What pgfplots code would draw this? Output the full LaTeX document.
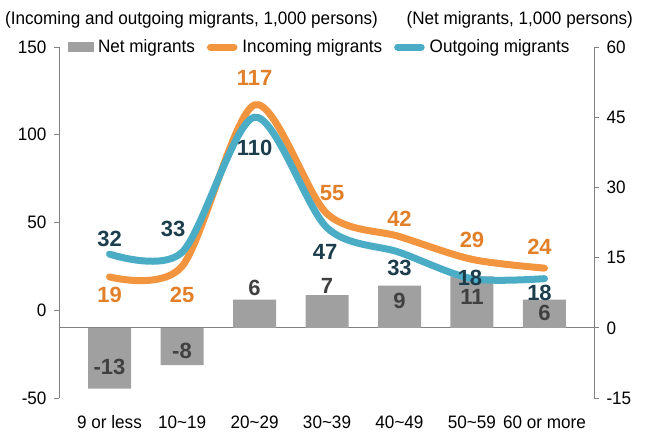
\documentclass[border=0pt]{standalone}
\usepackage{pgfplots}
\usepackage{pgfplotstable}
\pgfplotsset{compat=1.18}
\usepackage{fontspec}
\setmainfont{Liberation Sans}
\newfontfamily\narrowfont[FakeStretch=0.95]{Liberation Sans}
\definecolor{orangeL}{RGB}{243,148,62}
\definecolor{blueL}{RGB}{75,172,198}
\definecolor{barG}{RGB}{160,160,160}
\definecolor{orangeT}{RGB}{226,128,42}
\definecolor{blueT}{RGB}{28,62,76}
\definecolor{barT}{RGB}{64,64,64}
\definecolor{axG}{RGB}{128,128,128}

\pgfplotstableread{
x y dx dy lab
0 -13 0 22 -13
1 -8 0 14 -8
2 6 0 12 6
3 7 0 9 7
4 9 0 -15 9
5 11 0 -21 11
6 6 0 -13 6
}\netdata
\pgfplotstableread{
x y dx dy lab
0 19 0 -18 19
1 25 0 -29 25
2 117 0 27 117
3 55 5 21 55
4 42 0 18 42
5 29 0 19 29
6 24 -5 21 24
}\indata
\pgfplotstableread{
x y dx dy lab
0 32 0 15 32
1 33 -9 23 33
2 110 0 -31 110
3 47 -2 -24 47
4 33 0 -16 33
5 18 -2 1 18
6 18 -5 -14 18
}\outdata

\newcommand\labfont{\fontsize{22}{22}\selectfont\bfseries}
\newcommand\tickfont{\fontsize{18}{18}\selectfont\narrowfont}

\begin{document}
\begin{tikzpicture}
\useasboundingbox (-59pt,-39pt) rectangle (589pt,398pt);
% right axis: net migrants (bars)
\begin{axis}[
  at={(0pt,0pt)}, anchor=south west,
  scale only axis, width=535pt, height=351pt,
  xmin=-0.697, xmax=6.683, ymin=-15, ymax=60,
  axis x line=none, axis y line*=right,
  y axis line style={draw=axG, line width=0.8pt},
  ytick={-15,0,15,30,45,60},
  tick align=outside, major tick length=5pt,
  major y tick style={draw=axG, line width=0.8pt},
  /pgf/number format/assume math mode=true,
  yticklabel style={font=\tickfont, xshift=4pt},
  clip=false,
]
\draw[axG, line width=0.8pt] (axis cs:-0.697,0) -- (axis cs:6.683,0);
\addplot[ybar, bar width=43pt, fill=barG, draw=none,
  point meta=explicit symbolic,
  visualization depends on={\thisrow{dx}\as\dx},
  visualization depends on={\thisrow{dy}\as\dy},
  nodes near coords={\pgfplotspointmeta},
  nodes near coords style={anchor=center, xshift=\dx pt, yshift=\dy pt, font=\labfont, text=barT, inner sep=0pt},
] table[x=x, y=y, meta=lab] {\netdata};
\end{axis}
% left axis: incoming / outgoing (lines)
\begin{axis}[
  at={(0pt,0pt)}, anchor=south west,
  scale only axis, width=535pt, height=351pt,
  xmin=-0.697, xmax=6.683, ymin=-50, ymax=150,
  axis y line*=left, axis x line*=bottom,
  x axis line style={draw=none},
  y axis line style={draw=axG, line width=0.8pt},
  xtick={0,1,2,3,4,5,6},
  xticklabels={9 or less, 10\textasciitilde19, 20\textasciitilde29, 30\textasciitilde39, 40\textasciitilde49, 50\textasciitilde59, 60 or more},
  major x tick style={draw=none},
  xticklabel style={font=\tickfont, yshift=-9pt},
  ytick={-50,0,50,100,150},
  tick align=outside, major tick length=5pt,
  major y tick style={draw=axG, line width=0.8pt},
  /pgf/number format/assume math mode=true,
  yticklabel style={font=\tickfont, xshift=-4pt},
  clip=false,
  legend columns=3,
  legend style={at={(0.487,1)}, anchor=center, draw=none, fill=none,
    font=\tickfont, /tikz/every even column/.append style={column sep=10pt},
    /tikz/every odd column/.append style={column sep=3pt},
    legend cell align=left},
]
\addlegendimage{legend image code/.code={\fill[barG] (0pt,-4.5pt) rectangle (25pt,4.5pt);}}
\addlegendentry{Net migrants}
\addplot[orangeL, line width=7pt, smooth, line cap=round, no markers,
  legend image code/.code={\draw[orangeL, line width=7pt, line cap=round] (3.5pt,0pt) -- (27pt,0pt);},
  point meta=explicit symbolic,
  visualization depends on={\thisrow{dx}\as\dx},
  visualization depends on={\thisrow{dy}\as\dy},
  nodes near coords={\pgfplotspointmeta},
  nodes near coords style={anchor=center, xshift=\dx pt, yshift=\dy pt, font=\labfont, text=orangeT, inner sep=0pt},
] table[x=x, y=y, meta=lab] {\indata};
\addlegendentry{Incoming migrants}
\addplot[blueL, line width=7pt, smooth, line cap=round, no markers,
  legend image code/.code={\draw[blueL, line width=7pt, line cap=round] (3.5pt,0pt) -- (27pt,0pt);},
  point meta=explicit symbolic,
  visualization depends on={\thisrow{dx}\as\dx},
  visualization depends on={\thisrow{dy}\as\dy},
  nodes near coords={\pgfplotspointmeta},
  nodes near coords style={anchor=center, xshift=\dx pt, yshift=\dy pt, font=\labfont, text=blueT, inner sep=0pt},
] table[x=x, y=y, meta=lab] {\outdata};
\addlegendentry{Outgoing migrants}
\end{axis}
\node[anchor=west, font=\tickfont, inner sep=0pt] at (-54pt,378pt) {(Incoming and outgoing migrants, 1,000 persons)};
\node[anchor=east, font=\tickfont, inner sep=0pt] at (574pt,378pt) {(Net migrants, 1,000 persons)};
\end{tikzpicture}
\end{document}
